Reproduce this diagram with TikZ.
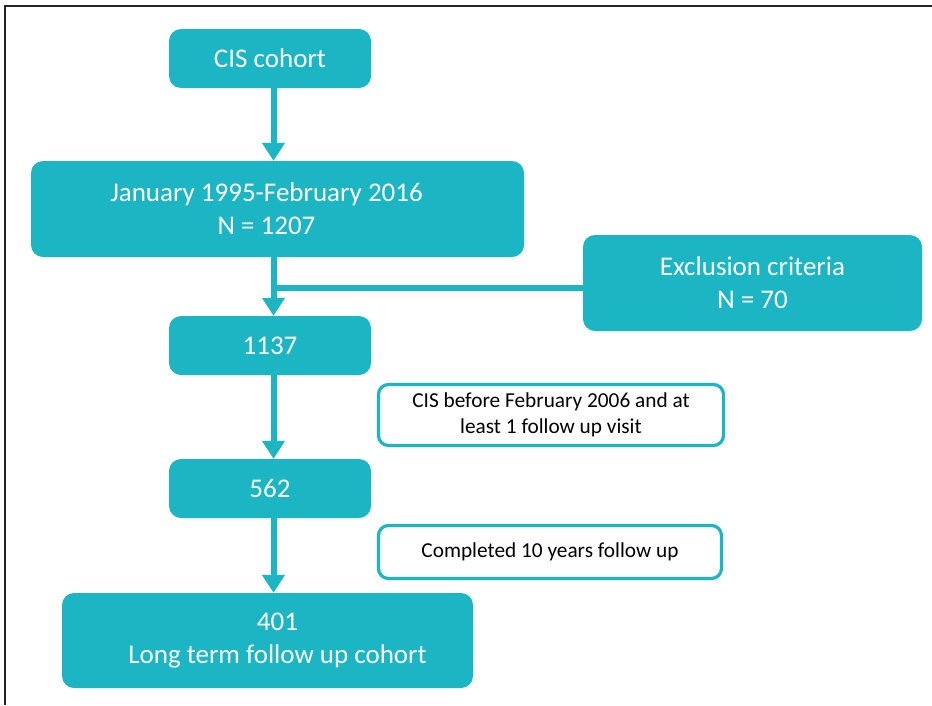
\documentclass[tikz,border=0pt]{standalone}
\usepackage{fontspec}
\setmainfont{Carlito}
\usetikzlibrary{arrows.meta}
\definecolor{tealbox}{RGB}{28,181,196}
\definecolor{framegray}{RGB}{35,35,35}
\tikzset{
  fillbox/.style={draw=none, fill=tealbox, rounded corners=12pt, inner sep=0pt},
  linebox/.style={draw=tealbox, line width=3.2pt, fill=white, rounded corners=10pt, inner sep=0pt},
  bigtxt/.style={text=white, font=\fontsize{27}{33}\selectfont, align=center, inner sep=0pt},
  smalltxt/.style={text=black, font=\fontsize{21.3}{25.5}\selectfont, align=center, inner sep=0pt},
  arr/.style={draw=tealbox, line width=6pt, -{Triangle[width=22pt,length=18pt]}},
  bar/.style={draw=tealbox, line width=6pt},
}
\begin{document}
\begin{tikzpicture}[x=1pt,y=-1pt]
\useasboundingbox (0,0) rectangle (932,705);
% frame
\coordinate (frTR) at (932,6);
\coordinate (frTL) at (5,6);
\coordinate (frBL) at (5,705);
\draw[framegray, line width=1.8pt] (frTR) -- (frTL) -- (frBL);

% filled boxes
\node[fillbox, minimum width=202pt, minimum height=59pt, bigtxt] (cis) at (270,58.5) {CIS cohort};
\node[fillbox, minimum width=493pt, minimum height=96pt] (jan) at (277.5,209) {};
\node[bigtxt] (jant) at (266.5,209) {January 1995-February 2016\\N = 1207};
\node[fillbox, minimum width=339pt, minimum height=96pt, bigtxt] (excl) at (752.5,283) {Exclusion criteria\\N = 70};
\node[fillbox, minimum width=202pt, minimum height=59pt, bigtxt] (n1137) at (270,345.5) {1137};
\node[fillbox, minimum width=202pt, minimum height=59pt, bigtxt] (n562) at (270,488.5) {562};
\node[fillbox, minimum width=411pt, minimum height=95pt] (fin) at (267.5,640.5) {};
\node[bigtxt] (fint) at (277.5,640.5) {401\\Long term follow up cohort};

% outlined boxes
\node[linebox, minimum width=345pt, minimum height=61pt, smalltxt] (crit1) at (551,415) {CIS before February 2006 and at\\least 1 follow up visit};
\node[linebox, minimum width=343pt, minimum height=53pt, smalltxt] (crit2) at (550,552) {Completed 10 years follow up};

% connectors
\coordinate (ax) at (273.5,0);
\coordinate (hy) at (0,288);
\draw[arr] (cis.south -| ax) -- (jan.north -| ax);
\draw[arr] (jan.south -| ax) -- (n1137.north -| ax);
\draw[bar] (excl.west |- hy) -- (ax |- hy);
\draw[arr] (n1137.south -| ax) -- (n562.north -| ax);
\draw[arr] (n562.south -| ax) -- (fin.north -| ax);
\end{tikzpicture}
\end{document}
